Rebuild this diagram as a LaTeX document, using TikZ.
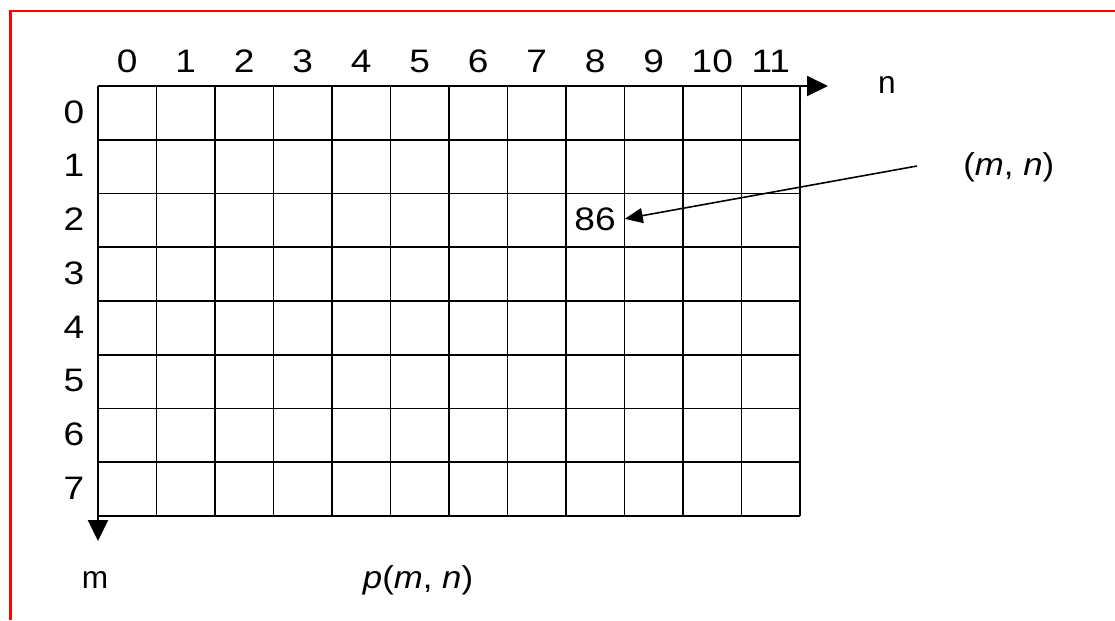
\documentclass[tikz,border=0pt]{standalone}
\usepackage{fontspec}
\setmainfont{Liberation Sans}
\newfontfamily\digitfont[FakeStretch=1.14]{Liberation Sans}
\newfontfamily\wideitfont[FakeStretch=1.1]{Liberation Sans}
\usetikzlibrary{arrows.meta}

\begin{document}
\begin{tikzpicture}[x=0.02cm,y=-0.02cm,
  lbl/.style={font=\fontsize{18}{21}\selectfont,inner sep=0pt},
  num/.style={lbl,font=\fontsize{18.5}{21}\digitfont,anchor=base},
  cellline/.style={line width=1.1pt},
  axis/.style={-{Triangle[length=0.42cm,width=0.4cm]},line width=1.1pt},
  arr/.style={-{Triangle[length=0.36cm,width=0.3cm]},line width=0.9pt}]

  \useasboundingbox (0,0) rectangle (1115,620);
  \draw[red,line width=0.05cm] (10.5,620) -- (10.5,11) -- (1115,11);

  % cells of the image
  \foreach \i in {0,...,12}
    \draw[cellline] ({98+58.5*\i},86) -- ({98+58.5*\i},516);
  \foreach \j in {0,...,8}
    \draw[cellline] (98,{86+53.75*\j}) -- (800,{86+53.75*\j});

  % axes
  \coordinate (o) at (98,86);
  \coordinate (nend) at (828,86);
  \coordinate (mend) at (98,541);
  \draw[axis] (o) -- (nend);
  \draw[axis] (o) -- (mend);

  \foreach \i in {0,...,11}
    \node[num] (col\i) at ({127.25+58.5*\i},72) {\i};
  \foreach \j in {0,...,7}
    \node[num] (row\j) at (74,{123+53.75*\j}) {\j};

  \node[lbl,anchor=base] (nlab) at (887,93) {n};
  \node[lbl,anchor=base] (mlab) at (95,588) {m};
  \node[lbl,anchor=base] (plab) at (418,588)
    {\wideitfont\textit{p}(\textit{m}, \textit{n})};

  % pixel value
  \node[num,inner sep=5pt] (val) at (595,230) {86};
  \node[lbl,anchor=base west] (mnlab) at (963,175)
    {\wideitfont(\textit{m}, \textit{n})};
  \coordinate (tail) at (917,166);
  \draw[arr] (tail) -- (val.east);

\end{tikzpicture}
\end{document}
